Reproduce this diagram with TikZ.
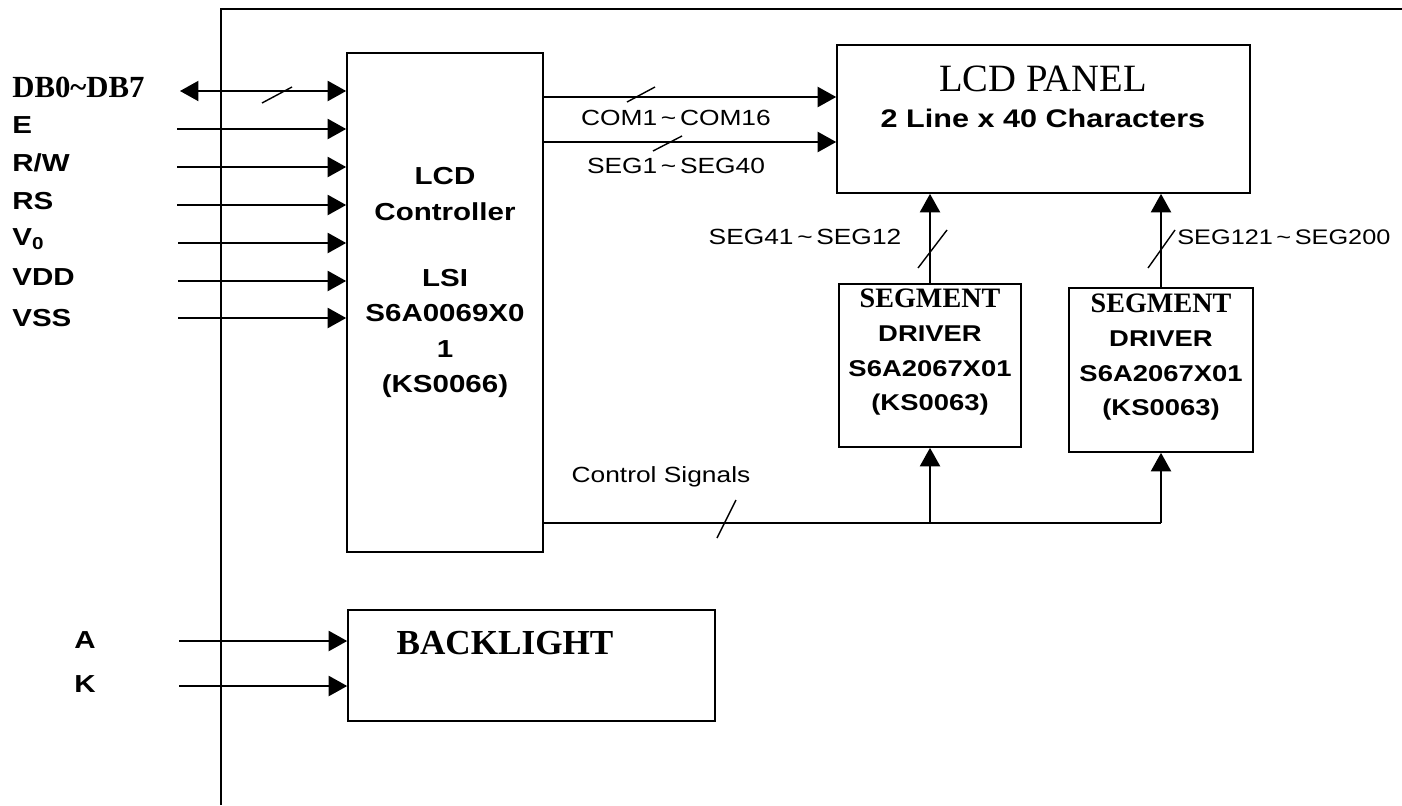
\documentclass[tikz,border=0pt]{standalone}
\usepackage{fontspec}
\setmainfont{Liberation Serif}
\setsansfont{Liberation Sans}[FakeStretch=1.2]
\usetikzlibrary{arrows.meta}

\tikzset{
  blk/.style={draw,line width=1pt,inner sep=0pt},
  sig/.style={line width=0.8pt,-{Triangle[length=10.5pt,width=11.5pt]}},
  bisig/.style={line width=0.8pt,{Triangle[length=10.5pt,width=11.5pt]}-{Triangle[length=10.5pt,width=11.5pt]}},
  bus/.style={line width=0.8pt},
  tick/.style={line width=0.8pt},
  pin/.style={anchor=west,inner sep=0pt,font=\sffamily\bfseries\fontsize{14}{16}\selectfont},
  chip/.style={align=center,inner sep=0pt,font=\sffamily\bfseries\fontsize{14}{20}\selectfont},
  note/.style={inner sep=0pt,font=\sffamily\fontsize{12.5}{15}\selectfont},
}

\begin{document}
\begin{tikzpicture}[x=0.02cm,y=-0.02cm]
\useasboundingbox (0,0) rectangle (1402,805);
% module outline
\draw[line width=0.8pt] (221,805) -- (221,9) -- (1402,9);

% blocks
\node[blk,minimum width=3.92cm,minimum height=9.98cm] (ctrl) at (445,302.5) {};
\node[blk,minimum width=8.26cm,minimum height=2.96cm] (panel) at (1043.5,119) {};
\node[blk,minimum width=3.64cm,minimum height=3.26cm] (drvA) at (930,365.5) {};
\node[blk,minimum width=3.68cm,minimum height=3.28cm] (drvB) at (1161,370) {};
\node[blk,minimum width=7.34cm,minimum height=2.22cm] (blight) at (531.5,665.5) {};

% block texts
\node[chip] (ctrltxt) at (445,282.5) {LCD\\Controller\\[18pt]LSI\\S6A0069X0\\1\\(KS0066)};
\node[inner sep=0pt,font=\rmfamily\fontsize{22}{24}\selectfont] (paneltitle) at (1043,79) {LCD PANEL};
\node[inner sep=0pt,font=\sffamily\bfseries\fontsize{14.5}{16}\selectfont] (panelsub) at (1043,118) {2 Line x 40 Characters};
\node[chip,font=\sffamily\bfseries\fontsize{13}{19.5}\selectfont] (drvAtxt) at (930,352) {{\rmfamily\fontsize{16}{19.5}\selectfont SEGMENT}\\DRIVER\\S6A2067X01\\(KS0063)};
\node[chip,font=\sffamily\bfseries\fontsize{13}{19.5}\selectfont] (drvBtxt) at (1161,357) {{\rmfamily\fontsize{16}{19.5}\selectfont SEGMENT}\\DRIVER\\S6A2067X01\\(KS0063)};
\node[inner sep=0pt,font=\rmfamily\bfseries\fontsize{20}{22}\selectfont] (blighttxt) at (505,643) {BACKLIGHT};

% interface pins
\node[pin,font=\rmfamily\bfseries\fontsize{17.5}{19}\selectfont] (pDB) at (12,87) {DB0\textasciitilde DB7};
\node[pin] (pE) at (12,125) {E};
\node[pin] (pRW) at (12,163) {R/W};
\node[pin] (pRS) at (12,201) {RS};
\node[pin] (pV) at (12,239) {V\textsubscript{0}};
\node[pin] (pVDD) at (12,277) {VDD};
\node[pin] (pVSS) at (12,318) {VSS};
\node[pin] (pA) at (74,640) {A};
\node[pin] (pK) at (74,684) {K};

\coordinate (inDB) at (180,91);
\coordinate (inE) at (177,129);
\coordinate (inRW) at (177,167);
\coordinate (inRS) at (177,205);
\coordinate (inV) at (178,243);
\coordinate (inVDD) at (178,281);
\coordinate (inVSS) at (178,318);
\coordinate (inA) at (179,641);
\coordinate (inK) at (179,686);

\draw[bisig] (inDB) -- (inDB -| ctrl.west);
\draw[sig] (inE) -- (inE -| ctrl.west);
\draw[sig] (inRW) -- (inRW -| ctrl.west);
\draw[sig] (inRS) -- (inRS -| ctrl.west);
\draw[sig] (inV) -- (inV -| ctrl.west);
\draw[sig] (inVDD) -- (inVDD -| ctrl.west);
\draw[sig] (inVSS) -- (inVSS -| ctrl.west);
\draw[sig] (inA) -- (inA -| blight.west);
\draw[sig] (inK) -- (inK -| blight.west);

% controller to panel
\draw[sig] (ctrl.east |- 0,97) -- (panel.west |- 0,97);
\draw[sig] (ctrl.east |- 0,142) -- (panel.west |- 0,142);
\node[note] (comlbl) at (676,118) {COM1\,\textasciitilde\,COM16};
\node[note] (seglbl) at (676,166) {SEG1\,\textasciitilde\,SEG40};

% drivers to panel
\draw[sig] (drvA.north) -- (drvA.north |- panel.south);
\draw[sig] (drvB.north) -- (drvB.north |- panel.south);
\node[note] (segAlbl) at (805,237) {SEG41\,\textasciitilde\,SEG12};
\node[note,anchor=west,font=\sffamily\fontsize{12}{15}\selectfont] (segBlbl) at (1177,237) {SEG121\,\textasciitilde\,SEG200};

% control signals
\draw[bus] (ctrl.east |- 0,523) -- (drvB.south |- 0,523);
\draw[sig] (drvA.south |- 0,523) -- (drvA.south);
\draw[sig] (drvB.south |- 0,523) -- (drvB.south);
\node[note] (ctllbl) at (661,477) {Control Signals};

% bus width marks
\draw[tick] (262,103) -- (292,87);
\draw[tick] (627,102) -- (655,87);
\draw[tick] (653,151) -- (682,136);
\draw[tick] (918,268) -- (947,230);
\draw[tick] (1148,268) -- (1175,230);
\draw[tick] (717,538) -- (736,500);
\end{tikzpicture}
\end{document}
